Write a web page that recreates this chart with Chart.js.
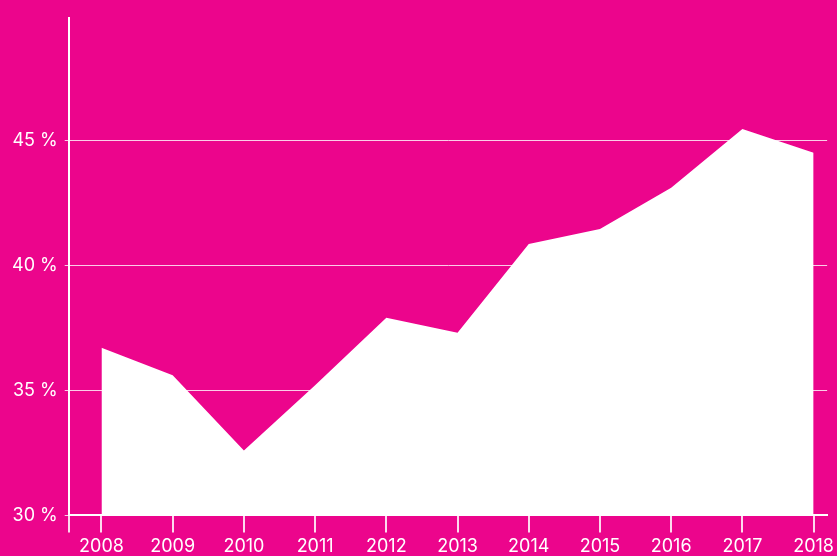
<!DOCTYPE html>
<html>
<head>
<meta charset="utf-8">
<script src="https://cdn.jsdelivr.net/npm/chart.js@4.4.1/dist/chart.umd.min.js"></script>
<style>
  html, body { margin: 0; padding: 0; background: #ec058c; overflow: hidden; }
  #wrap { width: 837px; height: 556px; overflow: hidden; }
</style>
</head>
<body>
<div id="wrap"><canvas id="shareChart" width="837" height="560"></canvas></div>
<script>
// values (share in %)
const years = [2008, 2009, 2010, 2011, 2012, 2013, 2014, 2015, 2016, 2017, 2018];
const share = [36.7, 35.6, 32.6, 35.2, 37.9, 37.3, 40.85, 41.45, 43.1, 45.45, 44.5];
const yTicks = [30, 35, 40, 45];

const ctx = document.getElementById('shareChart');

// x range a bit wider than the data so the axis sits left of 2008
const xMin = 2007.54;
const xMax = 2018.19;

const points = years.map(function (yr, i) {
    return { x: yr, y: share[i] };
});

const chart = new Chart(ctx, {
    type: 'line',
    data: {
        datasets: [{
            data: points,
            fill: 'start',
            backgroundColor: '#ffffff',
            borderWidth: 0,
            pointRadius: 0,
            tension: 0
        }]
    },
    options: {
        responsive: false,
        animation: false,
        layout: { padding: { top: 14, left: 5, right: 0, bottom: 0 } },
        plugins: {
            legend: { display: false },
            tooltip: { enabled: false }
        },
        scales: {
            x: {
                type: 'linear',
                min: xMin,
                max: xMax,
                afterBuildTicks: function (scale) {
                    scale.ticks = [{ value: xMin }].concat(years.map(function (v) { return { value: v }; }));
                },
                grid: {
                    drawOnChartArea: false,
                    drawTicks: true,
                    tickLength: 17,
                    color: 'rgba(255,255,255,0.85)',
                    lineWidth: 2
                },
                border: { display: true, color: '#ffffff', width: 2 },
                ticks: {
                    color: '#ffffff',
                    padding: 3,
                    maxRotation: 0,
                    autoSkip: false,
                    font: { family: 'Inter', size: 18 },
                    callback: function (v) {
                        return Number.isInteger(v) ? String(v) : '';
                    }
                }
            },
            y: {
                min: 30,
                max: 49.9,
                afterBuildTicks: function (scale) {
                    scale.ticks = yTicks.map(function (v) { return { value: v }; });
                },
                grid: {
                    color: 'rgba(255,255,255,0.8)',
                    lineWidth: 1,
                    tickLength: 4
                },
                border: { display: true, color: '#ffffff', width: 2 },
                ticks: {
                    color: '#ffffff',
                    padding: 7,
                    font: { family: 'Inter', size: 18 },
                    callback: function (v) { return v + ' %'; }
                }
            }
        }
    }
});
</script>
</body>
</html>
